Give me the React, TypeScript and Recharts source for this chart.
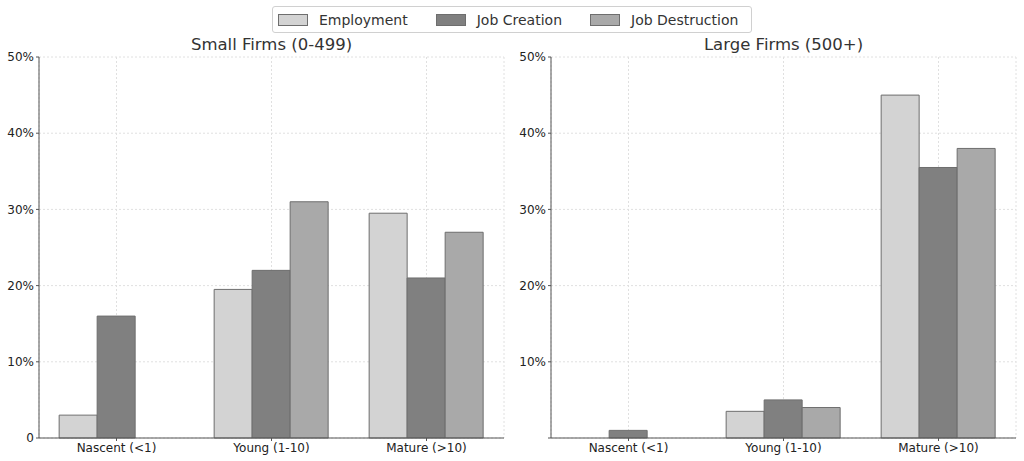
import { BarChart, Bar, XAxis, YAxis, CartesianGrid } from "recharts";

const categories = ["Nascent (<1)", "Young (1-10)", "Mature (>10)"];
const smallEmployment = [3, 19.5, 29.5];
const smallCreation = [16, 22, 21];
const smallDestruction = [0, 31, 27];
const largeEmployment = [0, 3.5, 45];
const largeCreation = [1, 5, 35.5];
const largeDestruction = [0, 4, 38];
const yTicks = [0, 10, 20, 30, 40, 50];

const series = [
  { key: "employment", name: "Employment", color: "#d3d3d3" },
  { key: "creation", name: "Job Creation", color: "#808080" },
  { key: "destruction", name: "Job Destruction", color: "#a9a9a9" },
];

const FONT = "'DejaVu Sans', sans-serif";

function buildRows(emp: number[], cre: number[], des: number[]) {
  return categories.map((c, i) => ({
    category: c,
    employment: emp[i],
    creation: cre[i],
    destruction: des[i],
  }));
}

function Panel({
  data,
  title,
  left,
  showZero,
}: {
  data: ReturnType<typeof buildRows>;
  title: string;
  left: number;
  showZero: boolean;
}) {
  return (
    <div style={{ position: "absolute", left, top: 0, width: 512, height: 461 }}>
      <div
        style={{
          position: "absolute",
          left: 39,
          width: 465,
          top: 35,
          textAlign: "center",
          fontFamily: FONT,
          fontSize: 16.5,
          color: "#333",
        }}
      >
        {title}
      </div>
      <BarChart
        width={512}
        height={461}
        data={data}
        margin={{ top: 57, right: 8, left: 0, bottom: 3 }}
        barGap={0}
        barCategoryGap="13%"
      >
        <CartesianGrid strokeDasharray="2 2" stroke="#e0e0e0" />
        <XAxis
          dataKey="category"
          height={20}
          tick={{ fill: "#222", fontSize: 12, fontFamily: FONT }}
          tickSize={3}
          stroke="#555"
        />
        <YAxis
          width={39}
          domain={[0, 50]}
          ticks={yTicks}
          interval={0}
          tickFormatter={(v: number) => (v === 0 ? (showZero ? "0" : "") : `${v}%`)}
          tick={{ fill: "#222", fontSize: 12, fontFamily: FONT }}
          tickSize={3}
          stroke="#555"
        />
        {series.map((s) => (
          <Bar
            key={s.key}
            dataKey={s.key}
            name={s.name}
            fill={s.color}
            stroke="#6e6e6e"
            strokeWidth={1}
            isAnimationActive={false}
          />
        ))}
      </BarChart>
    </div>
  );
}

export default function App() {
  const small = buildRows(smallEmployment, smallCreation, smallDestruction);
  const large = buildRows(largeEmployment, largeCreation, largeDestruction);
  return (
    <div
      style={{
        position: "absolute",
        left: 0,
        top: 0,
        width: 1024,
        height: 461,
        background: "#fff",
        overflow: "hidden",
      }}
    >
      <Panel data={small} title="Small Firms (0-499)" left={0} showZero={true} />
      <Panel data={large} title="Large Firms (500+)" left={512} showZero={false} />
      <div
        style={{
          position: "absolute",
          left: 272,
          top: 6,
          width: 478,
          height: 25,
          border: "1px solid #d0d0d0",
          borderRadius: 3,
          background: "#fff",
          display: "flex",
          alignItems: "center",
          fontFamily: FONT,
          fontSize: 14,
          color: "#333",
        }}
      >
        {series.map((s, i) => (
          <div
            key={s.key}
            style={{ display: "flex", alignItems: "center", marginLeft: i === 0 ? 5 : 28 }}
          >
            <span
              style={{
                display: "inline-block",
                width: 28,
                height: 10,
                background: s.color,
                border: "1px solid #6e6e6e",
                marginRight: 11,
              }}
            />
            <span>{s.name}</span>
          </div>
        ))}
      </div>
    </div>
  );
}
